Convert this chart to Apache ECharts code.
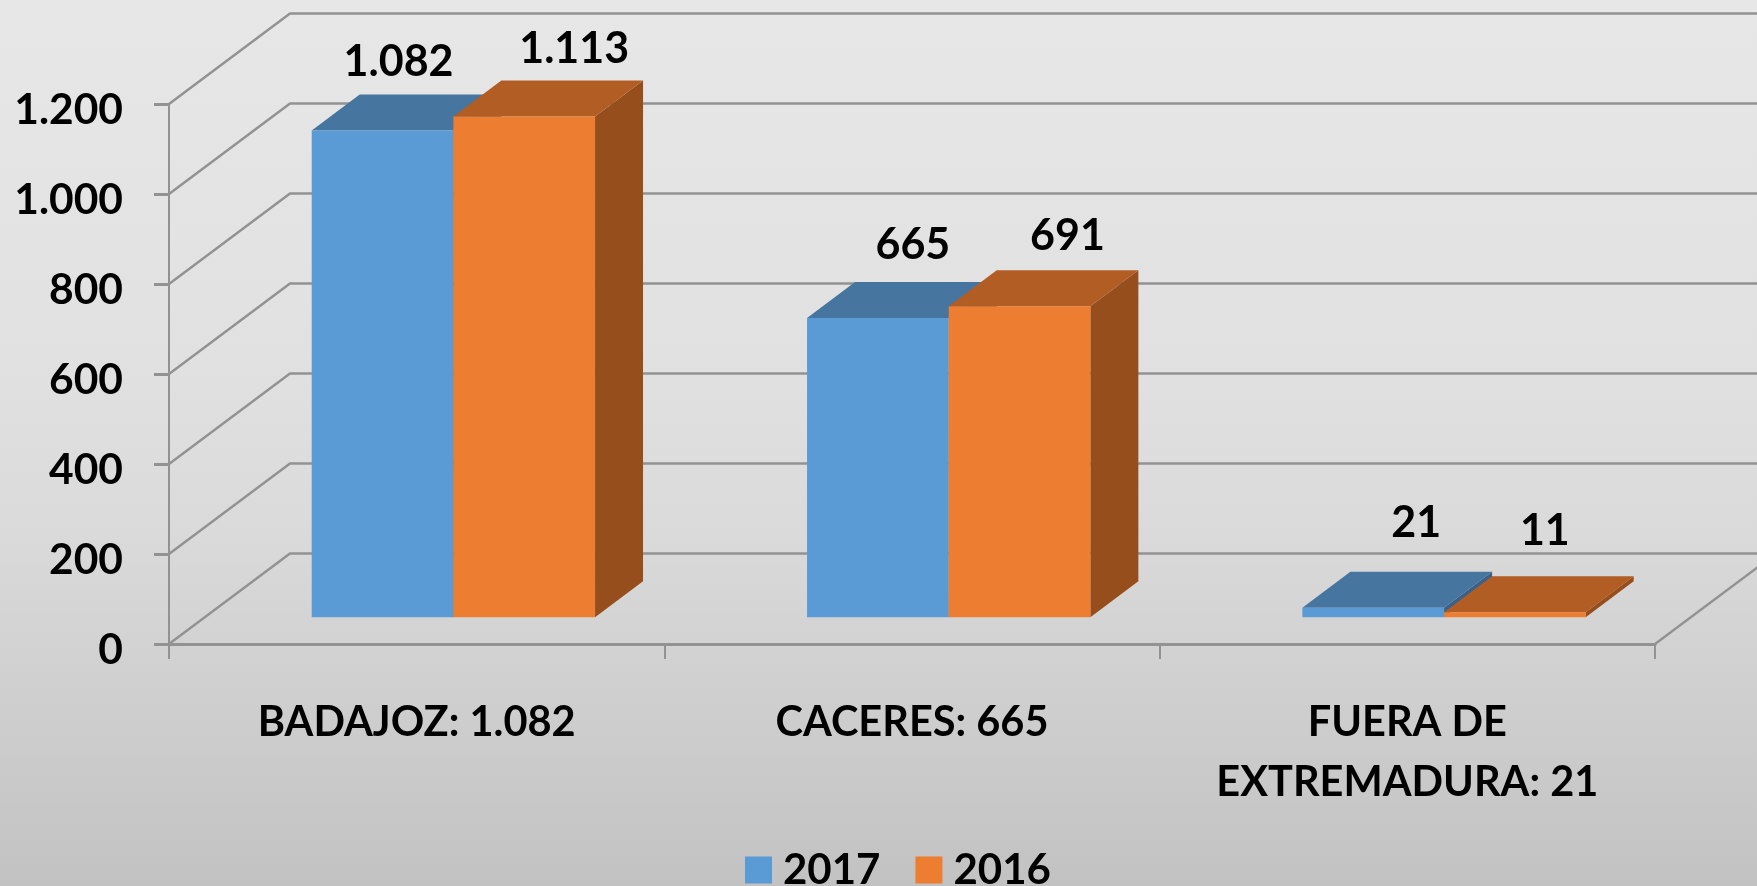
<!DOCTYPE html>
<html>
<head>
<meta charset="utf-8">
<title>Badajoz Caceres</title>
<style>
html, body { margin: 0; padding: 0; }
#main { width: 1757px; height: 886px; }
</style>
<script src="https://cdn.jsdelivr.net/npm/echarts@6/dist/echarts.min.js"></script>
</head>
<body>
<div id="main"></div>
<script>
var categories = ['BADAJOZ: 1.082', 'CACERES: 665', 'FUERA DE\nEXTREMADURA: 21'];
var years = ['2017', '2016'];
var values2017 = [1082, 665, 21];
var values2016 = [1113, 691, 11];
var yTicks = [0, 200, 400, 600, 800, 1000, 1200];

// falso 3D: desplazamientos en pixeles
var wallDx = 121, wallDy = 90.5;   // fondo del grafico
var gapDx = 36.7, gapDy = 26.7;    // del suelo a la cara frontal de la barra
var barDx = 48, barDy = 36;        // profundidad de la barra
var barRatio = 0.286;              // ancho de barra / ancho de categoria

// las etiquetas estan colocadas a mano en el original
var labelShift2017 = [[-8, 32], [11, 37], [19, 49]];
var labelShift2016 = [[26, 31], [24, 34], [6, 45]];

var fontName = 'Lato, "Open Sans", sans-serif';
var lineColor = '#929292';

function fmt(v) {
	return String(v).replace(/\B(?=(\d{3})+$)/g, '.');
}

function face(points, color) {
	return {
		type: 'polygon',
		shape: { points: points },
		style: { fill: color }
	};
}

// pared de fondo: una linea por cada tick
function renderWall(params, api) {
	var v = api.value(0);
	var y = api.coord([0, v])[1];
	var left = params.coordSys.x, right = params.coordSys.x + params.coordSys.width;
	var children = [{
		type: 'polyline',
		shape: { points: [[left, y], [left + wallDx, y - wallDy], [1757, y - wallDy]] },
		style: { stroke: lineColor, lineWidth: 2.4, fill: null }
	}];
	if (v === 0) {
		children.push({
			type: 'line',
			shape: { x1: right, y1: y, x2: right + wallDx, y2: y - wallDy },
			style: { stroke: lineColor, lineWidth: 2.4 }
		});
	}
	return { type: 'group', children: children };
}

function barRenderer(slot, front, top, side, shifts) {
	return function(params, api) {
		var i = api.value(0);
		var v = api.value(1);
		var band = api.size([1, 0])[0];
		var w = band * barRatio;
		var center = api.coord([i, 0])[0] + gapDx;
		var x0 = center + (slot - 1) * w;
		var x1 = x0 + w;
		var yBase = api.coord([i, 0])[1] - gapDy;
		var yTop = api.coord([i, v])[1] - gapDy;
		var shift = shifts[i];
		return {
			type: 'group',
			children: [
				face([[x1, yTop], [x1 + barDx, yTop - barDy], [x1 + barDx, yBase - barDy], [x1, yBase]], side),
				face([[x0, yTop], [x0 + barDx, yTop - barDy], [x1 + barDx, yTop - barDy], [x1, yTop]], top),
				face([[x0, yTop], [x1, yTop], [x1, yBase], [x0, yBase]], front),
				{
					type: 'text',
					style: {
						text: fmt(v),
						x: (x0 + x1) / 2 + barDx / 2 + shift[0],
						y: yTop - barDy - shift[1],
						align: 'center',
						verticalAlign: 'middle',
						fill: '#000',
						fontFamily: fontName,
						fontWeight: 'bold',
						fontSize: 43
					}
				}
			]
		};
	};
}

function toData(arr) {
	return arr.map(function(v, i) { return [i, v]; });
}

var myChart = echarts.init(document.getElementById('main'));
var option = {
	animation: false,
	backgroundColor: new echarts.graphic.LinearGradient(0, 0, 0, 1, [
		{ offset: 0, color: '#E7E7E7' },
		{ offset: 0.4, color: '#E1E1E1' },
		{ offset: 0.6, color: '#DADADA' },
		{ offset: 1, color: '#C2C2C2' }
	]),
	grid: { left: 169, top: 104, right: 102, bottom: 242 },
	legend: {
		data: years,
		left: 740,
		top: 844,
		icon: 'rect',
		itemWidth: 27,
		itemHeight: 27,
		itemGap: 35,
		selectedMode: false,
		textStyle: { color: '#000', fontFamily: fontName, fontWeight: 'bold', fontSize: 42, padding: [0, 0, 0, 6] }
	},
	xAxis: {
		type: 'category',
		data: categories,
		axisLine: { lineStyle: { color: lineColor, width: 3 } },
		axisTick: { show: true, length: 15, lineStyle: { color: lineColor, width: 2 } },
		axisLabel: {
			margin: 49,
			color: '#000',
			fontFamily: fontName,
			fontWeight: 'bold',
			fontSize: 41.5,
			lineHeight: 60,
			interval: 0
		}
	},
	yAxis: {
		type: 'value',
		min: 0,
		max: 1200,
		interval: 200,
		splitLine: { show: false },
		axisLine: { show: true, lineStyle: { color: lineColor, width: 2 } },
		axisTick: { show: true, length: 15, lineStyle: { color: lineColor, width: 3 } },
		axisLabel: {
			margin: 46,
			color: '#000',
			fontFamily: fontName,
			fontWeight: 'bold',
			fontSize: 42.5,
			// en el original el numero queda algo por debajo de la marca
			verticalAlign: 'top',
			lineHeight: 12,
			formatter: fmt
		}
	},
	series: [
		{
			type: 'custom',
			z: 1,
			coordinateSystem: 'cartesian2d',
			renderItem: renderWall,
			encode: { y: 0 },
			data: yTicks.map(function(v) { return [v]; }),
			silent: true
		},
		{
			name: years[0],
			type: 'custom',
			z: 3,
			renderItem: barRenderer(0, '#5B9BD5', '#4675A0', '#3A6289', labelShift2017),
			itemStyle: { color: '#5B9BD5' },
			encode: { x: 0, y: 1 },
			data: toData(values2017)
		},
		{
			name: years[1],
			type: 'custom',
			z: 3,
			renderItem: barRenderer(1, '#ED7D31', '#B15D24', '#964E1C', labelShift2016),
			itemStyle: { color: '#ED7D31' },
			encode: { x: 0, y: 1 },
			data: toData(values2016)
		}
	]
};
myChart.setOption(option);
</script>
</body>
</html>
